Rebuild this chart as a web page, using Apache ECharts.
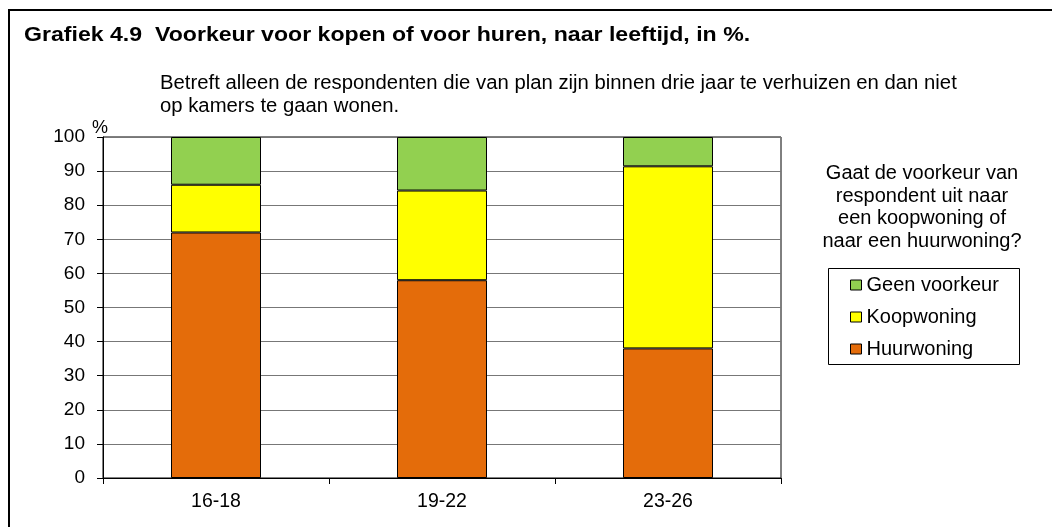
<!DOCTYPE html>
<html>
<head>
<meta charset="utf-8">
<script src="https://cdn.jsdelivr.net/npm/echarts@6/dist/echarts.min.js"></script>
<style>
  html, body { margin: 0; padding: 0; background: #fff; }
  #chart { width: 1052px; height: 527px; }
</style>
</head>
<body>
<div id="chart"></div>
<script>
// leeftijdsgroepen
var categories = ['16-18', '19-22', '23-26'];
// percentages per voorkeur (gestapeld)
var huurwoning = [72, 58, 38];
var koopwoning = [14, 26.3, 53.4];
var geenVoorkeur = [14, 15.7, 8.6];
var yTicks = [0, 10, 20, 30, 40, 50, 60, 70, 80, 90, 100];

var font = 'Arial, "Liberation Sans", sans-serif';

var option = {
  animation: false,
  backgroundColor: '#fff',
  textStyle: { fontFamily: font, color: '#000' },
  grid: {
    left: 103,
    right: 271,
    top: 137,
    bottom: 49,
    show: true,
    borderColor: '#000',
    borderWidth: 1
  },
  legend: {
    orient: 'vertical',
    left: 828,
    top: 268,
    padding: [7, 10, 7, 22],
    itemWidth: 11,
    itemHeight: 10,
    itemGap: 12,
    icon: 'rect',
    data: ['Geen voorkeur', 'Koopwoning', 'Huurwoning'],
    textStyle: { fontFamily: font, fontSize: 20, lineHeight: 20, color: '#000' },
    itemStyle: { borderColor: '#000', borderWidth: 1 }
  },
  xAxis: {
    type: 'category',
    data: categories,
    axisLine: { lineStyle: { color: '#000', width: 1 } },
    axisTick: { show: true, length: 6, lineStyle: { color: '#000' } },
    axisLabel: { fontFamily: font, fontSize: 19.5, color: '#000', margin: 14 }
  },
  yAxis: {
    type: 'value',
    min: yTicks[0],
    max: yTicks[yTicks.length - 1],
    interval: 10,
    name: '%',
    nameLocation: 'end',
    nameGap: 0,
    nameTextStyle: { fontFamily: font, fontSize: 18, color: '#000', align: 'left', padding: [0, 0, 0, -11] },
    axisLine: { show: true, lineStyle: { color: '#000', width: 1 } },
    axisTick: { show: true, length: 6, lineStyle: { color: '#000' } },
    axisLabel: { fontFamily: font, fontSize: 19, color: '#000', margin: 18 },
    splitLine: { show: true, lineStyle: { color: '#777', width: 1 } }
  },
  series: [
    {
      name: 'Huurwoning',
      type: 'bar',
      stack: 'totaal',
      data: huurwoning,
      barWidth: 90,
      itemStyle: { color: '#E46C0A', borderColor: '#000', borderWidth: 1 }
    },
    {
      name: 'Koopwoning',
      type: 'bar',
      stack: 'totaal',
      data: koopwoning,
      barWidth: 90,
      itemStyle: { color: '#FFFF00', borderColor: '#000', borderWidth: 1 }
    },
    {
      name: 'Geen voorkeur',
      type: 'bar',
      stack: 'totaal',
      data: geenVoorkeur,
      barWidth: 90,
      itemStyle: { color: '#92D050', borderColor: '#000', borderWidth: 1 }
    }
  ],
  graphic: [
    {
      type: 'rect',
      shape: { x: 9, y: 10, width: 1100, height: 600 },
      style: { fill: 'none', stroke: '#000', lineWidth: 2 },
      silent: true
    },
    {
      type: 'text',
      x: 24,
      y: 25,
      scaleX: 1.1,
      style: {
        text: 'Grafiek 4.9  Voorkeur voor kopen of voor huren, naar leeftijd, in %.',
        font: 'bold 21px ' + font,
        verticalAlign: 'top',
        fill: '#000'
      }
    },
    {
      type: 'text',
      x: 160,
      y: 72,
      scaleX: 1.015,
      style: {
        text: 'Betreft alleen de respondenten die van plan zijn binnen drie jaar te verhuizen en dan niet\nop kamers te gaan wonen.',
        font: '20px ' + font,
        lineHeight: 23,
        verticalAlign: 'top',
        fill: '#000'
      }
    },
    {
      type: 'text',
      x: 922,
      y: 162,
      style: {
        text: 'Gaat de voorkeur van\nrespondent uit naar\neen koopwoning of\nnaar een huurwoning?',
        font: '20px ' + font,
        lineHeight: 22.7,
        align: 'center',
        verticalAlign: 'top',
        fill: '#000'
      }
    },
    {
      type: 'rect',
      shape: { x: 828.5, y: 268.5, width: 191, height: 96 },
      style: { fill: 'none', stroke: '#000', lineWidth: 1 },
      silent: true
    }
  ]
};

var chartDom = document.getElementById('chart');
var myChart = echarts.init(chartDom, null, { renderer: 'canvas' });
option && myChart.setOption(option);
</script>
</body>
</html>
